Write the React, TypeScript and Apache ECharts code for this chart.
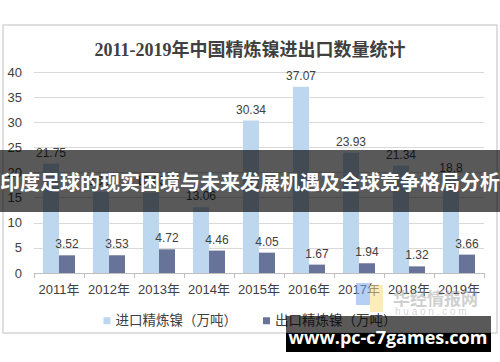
import React, { useEffect, useRef } from "react";
import * as echarts from "echarts";

const years = ["2011年", "2012年", "2013年", "2014年", "2015年", "2016年", "2017年", "2018年", "2019年"];
const importValues = [21.75, 16.1, 16.03, 13.06, 30.34, 37.07, 23.93, 21.34, 18.8];
const exportValues = [3.52, 3.53, 4.72, 4.46, 4.05, 1.67, 1.94, 1.32, 3.66];
const seriesNames = ["进口精炼镍（万吨）", "出口精炼镍（万吨）"];
const titleText = "2011-2019年中国精炼镍进出口数量统计";
const bannerText = "印度足球的现实困境与未来发展机遇及全球竞争格局分析";
const siteText = "www.pc-c7games.com";

const FONT = "'Liberation Sans', 'Noto Sans CJK SC', sans-serif";

export default function App() {
  const ref = useRef<HTMLDivElement>(null);
  useEffect(() => {
    if (!ref.current) return;
    const chart = echarts.init(ref.current, null, { renderer: "svg" });
    const labelStyle = { show: true, position: "top", distance: 5, color: "#404040", fontSize: 12, fontFamily: FONT };
    chart.setOption({
      animation: false,
      backgroundColor: "#ffffff",
      title: {
        text: titleText,
        left: "center",
        top: 36,
        textStyle: { fontSize: 18, fontWeight: "bold", color: "#404040", fontFamily: "'Liberation Serif', 'Noto Sans CJK SC', serif" },
      },
      grid: { left: 34, right: 16, top: 72, bottom: 89, containLabel: false },
      legend: {
        data: seriesNames,
        left: "center",
        top: 309,
        icon: "rect",
        itemWidth: 7,
        itemHeight: 7,
        itemGap: 26,
        textStyle: { fontSize: 13.5, color: "#404040", fontFamily: FONT },
      },
      xAxis: {
        type: "category",
        data: years,
        axisLine: { lineStyle: { color: "#bfbfbf" } },
        axisTick: { show: true, length: 5, lineStyle: { color: "#bfbfbf" } },
        axisLabel: { interval: 0, fontSize: 13, color: "#404040", margin: 10, fontFamily: FONT },
      },
      yAxis: {
        type: "value",
        min: 0,
        max: 40,
        interval: 5,
        axisLine: { show: false },
        axisTick: { show: false },
        splitLine: { lineStyle: { color: "#d9d9d9" } },
        axisLabel: { fontSize: 13, color: "#404040", margin: 12, fontFamily: FONT },
      },
      series: [
        {
          name: seriesNames[0],
          type: "bar",
          data: importValues,
          barWidth: 16,
          barGap: "0%",
          itemStyle: { color: "#bdd7ee" },
          label: labelStyle,
        },
        {
          name: seriesNames[1],
          type: "bar",
          data: exportValues,
          barWidth: 16,
          barGap: "0%",
          itemStyle: { color: "#687399" },
          label: labelStyle,
        },
      ],
      graphic: [
        {
          type: "rect",
          z: 1,
          silent: true,
          shape: { x: 3, y: 25, width: 494, height: 308 },
          style: { fill: "none", stroke: "#bfbfbf", lineWidth: 1 },
        },
        {
          type: "rect",
          z: 50,
          silent: true,
          shape: { x: 356, y: 283, width: 14, height: 22 },
          style: { fill: "rgba(120,170,235,0.55)" },
        },
        {
          type: "rect",
          z: 50,
          silent: true,
          shape: { x: 370, y: 285, width: 13, height: 27 },
          style: { fill: "rgba(250,220,130,0.55)" },
        },
        {
          type: "text",
          z: 50,
          silent: true,
          x: 393,
          y: 297,
          style: {
            text: "华经情报网",
            fill: "rgba(160,160,160,0.5)",
            fontSize: 17,
            fontWeight: "bold",
            fontFamily: "'Noto Sans CJK SC', sans-serif",
            verticalAlign: "middle",
          },
        },
        {
          type: "text",
          z: 50,
          silent: true,
          x: 395,
          y: 311,
          style: {
            text: "h u a o n . c o m",
            fill: "rgba(170,170,170,0.5)",
            fontSize: 10,
            fontFamily: FONT,
            verticalAlign: "middle",
          },
        },
        {
          type: "rect",
          z: 100,
          silent: true,
          shape: { x: 0, y: 150, width: 500, height: 62 },
          style: { fill: "rgba(0,0,0,0.65)" },
        },
        {
          type: "text",
          z: 101,
          silent: true,
          x: 250,
          y: 181,
          style: {
            text: bannerText,
            fill: "#ffffff",
            fontSize: 20,
            fontWeight: "bold",
            fontFamily: "'Noto Sans CJK SC', sans-serif",
            align: "center",
            verticalAlign: "middle",
          },
        },
        {
          type: "rect",
          z: 100,
          silent: true,
          shape: { x: 286, y: 316, width: 205, height: 17 },
          style: { fill: "rgba(0,0,0,0.65)" },
        },
        {
          type: "rect",
          z: 100,
          silent: true,
          shape: { x: 286, y: 333, width: 205, height: 19 },
          style: { fill: "#000000" },
        },
        {
          type: "text",
          z: 101,
          silent: true,
          x: 388,
          y: 337,
          style: {
            text: siteText,
            fill: "#ffffff",
            fontSize: 18,
            fontWeight: "bold",
            fontFamily: "'Open Sans', 'DejaVu Sans', sans-serif",
            align: "center",
            verticalAlign: "middle",
          },
        },
      ],
    });
    return () => chart.dispose();
  }, []);
  return <div ref={ref} style={{ position: "fixed", left: 0, top: 0, width: 500, height: 362 }} />;
}
